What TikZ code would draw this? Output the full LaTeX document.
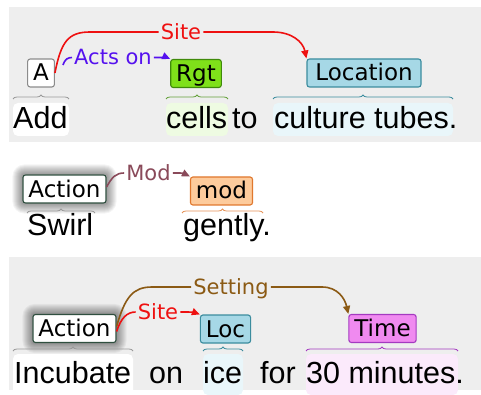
\documentclass[tikz,border=0pt]{standalone}
\usepackage{fontspec}
\setmainfont{Liberation Sans}
\newfontfamily\lblfont{DejaVu Sans}
\usetikzlibrary{arrows.meta,decorations.pathreplacing,calc}

\pgfdeclarelayer{glowlayer}
\pgfsetlayers{glowlayer,main}

\definecolor{panelgray}{HTML}{EEEEEE}
\definecolor{sitered}{HTML}{EE1111}
\definecolor{actsblue}{HTML}{5511EE}
\definecolor{modarc}{HTML}{8A4A5A}
\definecolor{setarc}{HTML}{8B5A14}
\definecolor{rgtfill}{HTML}{7FE01A}
\definecolor{rgtline}{HTML}{3F8A0A}
\definecolor{locfill}{HTML}{A6D8E6}
\definecolor{locline}{HTML}{3B8C9E}
\definecolor{modfill}{HTML}{FDCB9C}
\definecolor{modline}{HTML}{E0782E}
\definecolor{timefill}{HTML}{F08AF0}
\definecolor{timeline}{HTML}{A43AC0}
\definecolor{actline}{HTML}{2F4F3F}
\definecolor{hlrgt}{HTML}{EEFBE2}
\definecolor{hlloc}{HTML}{E9F6FA}
\definecolor{hltime}{HTML}{FBEAFB}

% soft gray halo around a node (drawn on the layer beneath it)
\newcommand{\halo}[1]{%
  \begin{pgfonlayer}{glowlayer}
    \foreach \r in {1,...,10}{%
      \fill[black, opacity=0.045, rounded corners=\r pt+2pt]
        ($(#1.north west)+(-\r,-\r)$) rectangle ($(#1.south east)+(\r,\r)$);
    }
  \end{pgfonlayer}}

\begin{document}
\begin{tikzpicture}[x=1pt,y=-1pt,
  word/.style={anchor=base west, inner sep=0pt, font=\fontsize{30.5}{36}\selectfont},
  spanbox/.style={draw, rounded corners=2.5pt, line width=1.1pt, minimum height=28pt,
    inner xsep=5.5pt, inner ysep=0pt, text height=16pt, text depth=0pt,
    font=\lblfont\fontsize{23}{27}\selectfont},
  arclbl/.style={inner xsep=2pt, inner ysep=0pt, text height=15pt, text depth=0pt,
    font=\lblfont\fontsize{21}{25}\selectfont},
  arcline/.style={line width=1.6pt, -{Triangle[length=8pt,width=7pt]}},
  arcstart/.style={line width=1.6pt},
  hl/.style={rounded corners=5pt},
  bracedeco/.style={decorate, decoration={brace, amplitude=4pt, aspect=0.5}, line width=0.8pt}]

\begin{pgfonlayer}{glowlayer}
\useasboundingbox (0,0) rectangle (481,390);
\fill[white] (0,0) rectangle (481,390);
% panel backgrounds
\fill[panelgray] (9,7) rectangle (481,142);
\fill[panelgray] (9,257) rectangle (481,390);
\end{pgfonlayer}

% ---------- sentence 1 ----------
\fill[hl, white] (13,103) rectangle (69,136);
\fill[hl, hlrgt] (166,103) rectangle (228,136);
\fill[hl, hlloc] (273,103) rectangle (453,136);
\draw[bracedeco, gray!80] (13,99) -- (69,99);
\draw[bracedeco, rgtline!80] (166,99) -- (228,99);
\draw[bracedeco, locline] (273,99) -- (453,99);

\node[spanbox, fill=white, draw=gray!90] (a1) at (41,73) {A};
\node[spanbox, fill=rgtfill, draw=rgtline] (rgt) at (196,73.5) {Rgt};
\node[spanbox, fill=locfill, draw=locline, minimum width=114pt] (loc1) at (364,73) {Location};

\node[word] (w-add) at (13,129) {Add};
\node[word] (w-cells) at (166,129) {cells};
\node[word] (w-to) at (232,129) {to};
\node[word] (w-culture) at (274,129) {culture tubes.};

\node[arclbl, text=sitered] (site1) at (181,32) {Site};
\node[arclbl, text=actsblue] (acts) at (113,57.5) {Acts on};

\draw[arcstart, sitered] (a1.east) .. controls (61,42) and (68,32) .. (90,32) -- (site1.west);
\draw[arcline, sitered] (site1.east) -- (273,32) .. controls (292,32) and (303,42) .. (loc1.north west);
\draw[arcstart, actsblue] ($(a1.east)+(8,-8)$) .. controls (65,59) and (68,57.5) .. (acts.west);
\draw[arcline, actsblue] (acts.east) -- (161,57.5) .. controls (165,57.5) and (168,58) .. (rgt.north west);

% ---------- sentence 2 ----------
\draw[bracedeco, gray!80] (27,213) -- (95,213);
\draw[bracedeco, modline!80] (182,213) -- (263,213);

\node[spanbox, fill=white, draw=actline] (act2) at (64.5,189) {Action};
\halo{act2}
\node[spanbox, fill=modfill, draw=modline] (mod) at (221.5,191) {mod};

\node[word] (w-swirl) at (27,235) {Swirl};
\node[word] (w-gently) at (183,235) {gently.};

\node[arclbl, text=modarc] (modl) at (148.5,173) {Mod};
\draw[arcstart, modarc] ($(act2.east)+(0,-2)$) .. controls (112,177) and (116,173) .. (modl.west);
\draw[arcline, modarc] (modl.east) -- (180,173) .. controls (184,173) and (187,175) .. (mod.north west);

% ---------- sentence 3 ----------
\fill[hl, white] (13,354) rectangle (133,395);
\fill[hl, hlloc] (203,354) rectangle (243,395);
\fill[hl, hltime] (306,354) rectangle (458,395);
\draw[bracedeco, gray!80] (13,351) -- (133,351);
\draw[bracedeco, locline] (203,351) -- (243,351);
\draw[bracedeco, timeline] (306,351) -- (458,351);

\node[spanbox, fill=white, draw=actline] (act3) at (74.5,328.5) {Action};
\halo{act3}
\node[spanbox, fill=locfill, draw=locline] (loc3) at (225.5,329) {Loc};
\node[spanbox, fill=timefill, draw=timeline] (time) at (382.5,328.5) {Time};

\node[word] (w-incubate) at (14,383) {Incubate};
\node[word] (w-on) at (149,383) {on};
\node[word] (w-ice) at (203,383) {ice};
\node[word] (w-for) at (260,383) {for};
\node[word] (w-30) at (306,383) {30 minutes.};

\node[arclbl, text=setarc] (setl) at (231,287) {Setting};
\node[arclbl, text=sitered] (site3) at (158,312) {Site};

\draw[arcstart, setarc] ($(act3.east)+(0,-2)$) .. controls (125,297) and (133,287) .. (152,287) -- (setl.west);
\draw[arcline, setarc] (setl.east) -- (322,287) .. controls (338,287) and (345,299) .. (time.north west);
\draw[arcstart, sitered] ($(act3.east)+(0,3)$) .. controls (121,318) and (127,312) .. (site3.west);
\draw[arcline, sitered] (site3.east) -- (188,312) .. controls (192,312) and (196,313) .. (loc3.north west);

\end{tikzpicture}
\end{document}
